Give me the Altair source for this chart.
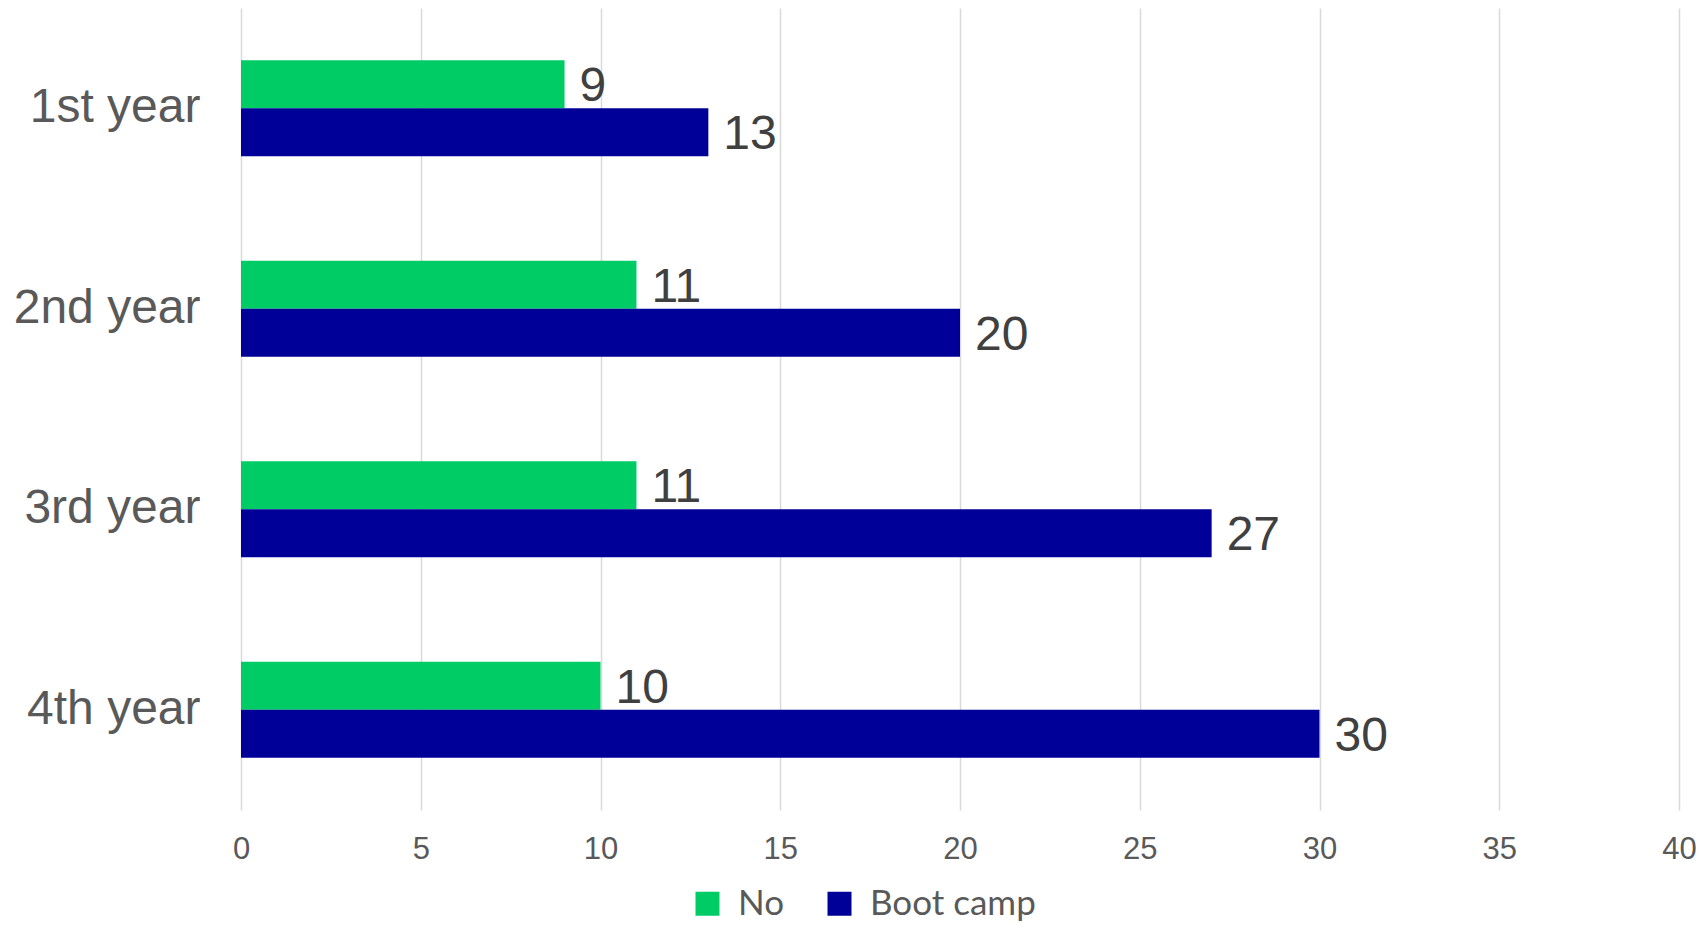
import altair as alt
import pandas as pd

categories = ["1st year", "2nd year", "3rd year", "4th year"]
series = ["No", "Boot camp"]
no_vals = [9, 11, 11, 10]
boot_vals = [13, 20, 27, 30]
x_ticks = [0, 5, 10, 15, 20, 25, 30, 35, 40]
colors = ["#00CC66", "#000099"]

rows = []
for c, n, b in zip(categories, no_vals, boot_vals):
    rows.append({"category": c, "series": "No", "value": n})
    rows.append({"category": c, "series": "Boot camp", "value": b})
df = pd.DataFrame(rows)

FONT = "Liberation Sans"

y_enc = alt.Y(
    "category:N",
    sort=categories,
    scale=alt.Scale(paddingInner=0.52, paddingOuter=0.26),
    axis=alt.Axis(
        title=None, ticks=False, domain=False, labelFontSize=48, labelFont=FONT,
        labelColor="#595959", labelPadding=41, labelLimit=400,
    ),
)
yoff = alt.YOffset("series:N", sort=series, scale=alt.Scale(paddingInner=0, paddingOuter=0))
x_enc = alt.X(
    "value:Q",
    scale=alt.Scale(domain=[0, 40], nice=False),
    axis=alt.Axis(
        title=None, values=x_ticks, ticks=False, domain=False, grid=True,
        gridColor="#D9D9D9", gridWidth=1.5, labelFontSize=31, labelFont=FONT,
        labelColor="#595959", labelPadding=24, labelFlush=False,
    ),
)

bars = alt.Chart(df).mark_bar().encode(
    x=x_enc,
    y=y_enc,
    yOffset=yoff,
    color=alt.Color(
        "series:N",
        sort=series,
        scale=alt.Scale(domain=series, range=colors),
        legend=alt.Legend(
            title=None, orient="none", legendX=449, legendY=878, direction="horizontal",
            symbolType="square", symbolSize=576, symbolStrokeWidth=0,
            labelFontSize=35, labelFont="Lato", labelColor="#595959", labelLimit=600,
            columnPadding=37, labelOffset=13, padding=0,
        ),
    ),
)

labels = alt.Chart(df).mark_text(
    align="left", baseline="middle", dx=15, dy=3, fontSize=48, font=FONT, color="#404040"
).encode(
    x=alt.X("value:Q"),
    y=alt.Y("category:N", sort=categories),
    yOffset=alt.YOffset("series:N", sort=series),
    text=alt.Text("value:Q"),
)

chart = (
    alt.layer(bars, labels)
    .properties(
        width=1438,
        height=802,
        autosize=alt.AutoSizeParams(type="none"),
        padding={"left": 233, "top": 0, "right": 17, "bottom": 117},
    )
    .configure_view(stroke=None)
)

chart.save("out.html", embed_options={"renderer": "svg", "actions": False})
